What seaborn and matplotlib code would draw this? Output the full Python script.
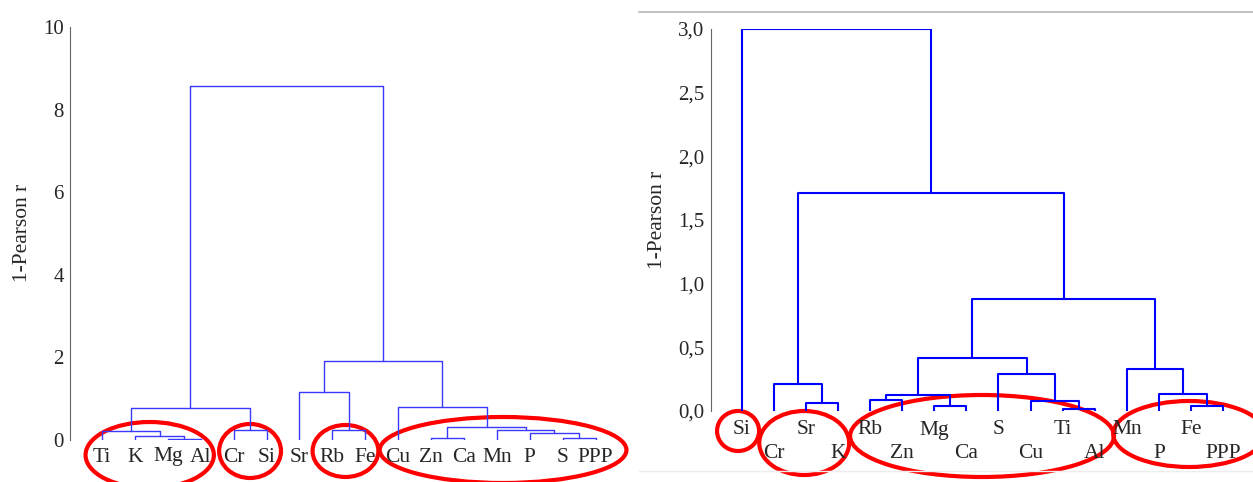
import numpy as np
import pandas as pd
import seaborn as sns
import matplotlib
matplotlib.use('Agg')
import matplotlib.pyplot as plt
import matplotlib.transforms as mtransforms
from matplotlib.patches import Ellipse
from matplotlib.lines import Line2D
from matplotlib.ticker import MultipleLocator, FuncFormatter

# left dendrogram (scipy-style linkage: leaves 0..15, merge k -> node 16+k)
left_leaves = ['Ti', 'K', 'Mg', 'Al', 'Cr', 'Si', 'Sr', 'Rb', 'Fe', 'Cu', 'Zn', 'Ca', 'Mn', 'P', 'S', 'PPP']
left_a = [2, 1, 0, 4, 18, 7, 6, 10, 14, 13, 12, 23, 9, 22, 20]
left_b = [3, 16, 17, 5, 19, 8, 21, 11, 15, 24, 25, 26, 27, 28, 29]
left_h = [0.02, 0.10, 0.20, 0.24, 0.77, 0.24, 1.15, 0.05, 0.05, 0.16, 0.24, 0.31, 0.79, 1.90, 8.57]

# right dendrogram
right_leaves = ['Si', 'Cr', 'Sr', 'K', 'Rb', 'Zn', 'Mg', 'Ca', 'S', 'Cu', 'Ti', 'Al', 'Mn', 'P', 'Fe', 'PPP']
right_a = [2, 1, 4, 6, 18, 10, 9, 8, 20, 14, 13, 12, 24, 17, 0]
right_b = [3, 16, 5, 7, 19, 11, 21, 22, 23, 15, 25, 26, 27, 28, 29]
right_h = [0.06, 0.21, 0.089, 0.036, 0.125, 0.018, 0.081, 0.289, 0.414, 0.039, 0.133, 0.331, 0.875, 1.708, 3.0]

W, H = 1253, 482


def links_frame(n, a, b, h):
    # U-shaped path for every merge, children centred like a normal dendrogram
    pos = list(range(n))
    hgt = [0.0] * n
    rows = []
    for k, (i, j, z) in enumerate(zip(a, b, h)):
        xs = [pos[i], pos[i], pos[j], pos[j]]
        ys = [hgt[i], z, z, hgt[j]]
        for s in range(4):
            rows.append({'link': k, 'step': s, 'x': xs[s], 'y': ys[s]})
        pos.append((pos[i] + pos[j]) / 2)
        hgt.append(z)
    return pd.DataFrame(rows)


sns.set_style('white')
plt.rcParams['font.family'] = ['Liberation Serif', 'DejaVu Serif']

fig = plt.figure(figsize=(W / 100, H / 100), dpi=100)

# axes placed in pixel terms
ax1 = fig.add_axes([70 / W, (H - 439.7) / H, 540 / W, 412.7 / H])
ax2 = fig.add_axes([710.6 / W, (H - 411) / H, (W - 710.6) / W, 382.3 / H])

panels = [
    (ax1, left_leaves, left_a, left_b, left_h, '#3a3aff', 1.0),
    (ax2, right_leaves, right_a, right_b, right_h, 'blue', 1.5),
]
for ax, leaves, a, b, h, col, lw in panels:
    df = links_frame(len(leaves), a, b, h)
    sns.lineplot(data=df, x='x', y='y', units='link', estimator=None, sort=False,
                 color=col, lw=lw, ax=ax, legend=False)
    ax.set_xlabel('')
    ax.set_xticks([])
    for s in ['top', 'right', 'bottom']:
        ax.spines[s].set_visible(False)
    ax.spines['left'].set_color('#666666')
    ax.spines['left'].set_linewidth(0.8)
    ax.tick_params(axis='y', which='both', direction='in', color='#666666', width=0.8,
                   labelsize=15, pad=4.5)
    ax.tick_params(axis='y', which='major', length=4)
    ax.tick_params(axis='y', which='minor', length=2.5)
    ax.set_ylabel('1-Pearson r', fontsize=15.5)

ax1.set_xlim(-0.973, 15.44)
ax1.set_ylim(0, 10)
ax1.yaxis.set_major_locator(MultipleLocator(2))
ax1.yaxis.set_minor_locator(MultipleLocator(1))
ax1.yaxis.set_label_coords(-0.070, 0.5)

ax2.set_xlim(-0.966, 15.93)
ax2.set_ylim(0, 3)
ax2.yaxis.set_major_locator(MultipleLocator(0.5))
ax2.yaxis.set_minor_locator(MultipleLocator(0.1))
ax2.yaxis.set_major_formatter(FuncFormatter(lambda v, p: f'{v:.1f}'.replace('.', ',')))
ax2.yaxis.set_label_coords(-0.080, 0.5)

# leaf labels
tr1 = mtransforms.blended_transform_factory(ax1.transData, fig.transFigure)
for i, name in enumerate(left_leaves):
    ax1.text(i, 1 - 457 / H, name, transform=tr1, ha='center', va='center',
             fontsize=15.5, clip_on=False)

tr2 = mtransforms.blended_transform_factory(ax2.transData, fig.transFigure)
for i, name in enumerate(right_leaves):
    yy = 430 if i % 2 == 0 else 454
    ax2.text(i, 1 - yy / H, name, transform=tr2, ha='center', va='center',
             fontsize=15.5, clip_on=False)

# red rings around groups: (centre x in leaf units, width in leaf units, centre y px, height px)
left_rings = [(1.45, 3.9, 455, 66), (4.5, 1.88, 451, 54), (7.4, 2.0, 451, 52), (12.19, 7.5, 450, 66)]
right_rings = [(-0.11, 1.31, 431, 40), (1.95, 2.8, 443, 64), (7.49, 8.22, 436, 82), (13.94, 4.73, 434, 66)]
for ax, tr, rings in [(ax1, tr1, left_rings), (ax2, tr2, right_rings)]:
    for cx, w, cy, hh in rings:
        ax.add_patch(Ellipse((cx, 1 - cy / H), w, hh / H, transform=tr, fill=False,
                             edgecolor='red', lw=3, clip_on=False))

# thin grey frame lines on right picture
fig.add_artist(Line2D([639 / W, 1], [1 - 11.7 / H] * 2, color='#b5b5b5', lw=1.2,
                      transform=fig.transFigure))
fig.add_artist(Line2D([639 / W, 1], [1 - 470.7 / H] * 2, color='#ededed', lw=1.0,
                      transform=fig.transFigure))

fig.savefig('out.png', dpi=100)
